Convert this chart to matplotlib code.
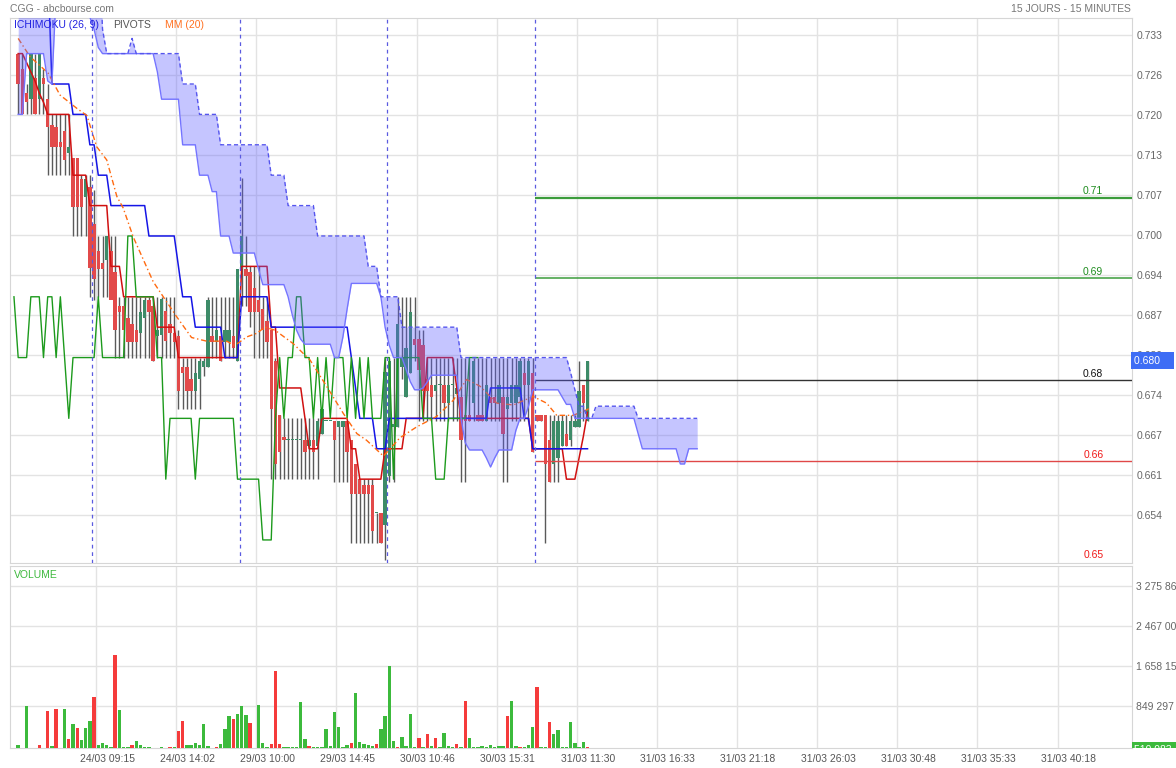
import numpy as np
import matplotlib
matplotlib.use("Agg")
from matplotlib import pyplot as plt
from matplotlib.transforms import Bbox, IdentityTransform, TransformedBbox

plt.rcParams['font.family'] = ['Liberation Sans', 'DejaVu Sans']

# --- candles (15 min bars, as drawn) ---
opens = [
    .730, .7275, .7235, .7225, .726, .7225, .726, .7225, .7183, .718,
    .7155, .7172, .7137, .7128, .7128, .7093, .7064, .708,
    .702, .6975, .6955, .696, .6975, .694, .6885, .6885, .6865, .6855,
    .6845, .684, .6865, .6895, .6885, .6835, .6837, .6877, .6855, .684,
    .6835, .6785, .6785, .6765, .6745, .6765, .6785, .6785, .6835, .6825,
    .6835, .6825, .6825, .6835, .6795,
    .6945, .6945, .694, .6915, .6895, .688, .686, .6845, .6795, .6705,
    .667, .6665, .6665, .6665, .6665, .6665, .6655, .6665, .6655, .6675,
    .6695, .6695, .6695, .6685, .6685, .6695, .6665, .6625, .660, .659,
    .659, .659, .6545, .6545, .6525,
    .6605, .6685, .6685, .6785, .6735, .6775, .683, .683, .682, .6765,
    .6755, .6745, .6755, .6755, .6725, .6755, .674, .6735, .6705, .6705,
    .6725, .6705, .6705, .6695, .6735, .6735, .6725, .6735, .6715, .6725,
    .6725, .6735, .6775, .6755, .6775,
    .6705, .6705, .6705, .6665, .6625, .6635, .6655, .6675, .6665, .6685,
    .6685, .6755, .6695]
closes = [
    .725, .720, .722, .730, .720, .730, .725, .718, .7147, .7147,
    .7147, .7125, .7147, .7048, .7048, .7048, .7093, .6947,
    .693, .6945, .6945, .700, .6895, .6845, .6875, .6845, .6825, .6825,
    .6825, .6875, .6895, .6875, .6795, .6845, .6897, .6827, .684, .6825,
    .6745, .6775, .6745, .6745, .6775, .6795, .6795, .6895, .6825, .6845,
    .6795, .6845, .6845, .6815, .6945,
    .700, .6935, .6875, .6875, .6875, .6845, .6825, .6715, .6625, .6645,
    .6665, .6665, .6665, .6665, .6665, .6645, .6665, .6645, .6695, .6715,
    .6695, .6695, .6665, .6695, .6695, .6645, .6575, .6575, .6575, .6575,
    .6575, .6515, .6545, .6495, .6777,
    .6795, .669, .6855, .680, .6815, .6875, .682, .678, .6745, .6745,
    .6735, .6755, .6755, .6725, .6755, .6755, .675, .6665, .6695, .6695,
    .6795, .6695, .6695, .6755, .6725, .6725, .6755, .6675, .6735, .6755,
    .6755, .6795, .6755, .6795, .6645,
    .6695, .6695, .6625, .6595, .6695, .6695, .6695, .6655, .6695, .6695,
    .6745, .6725, .6795]
highs = [
    .730, .730, .725, .730, .730, .730, .7275, .725, .720, .720,
    .720, .720, .720, .7128, .7128, .710, .710, .710,
    .7075, .700, .700, .700, .700, .700, .690, .690, .690, .690,
    .690, .690, .690, .690, .690, .690, .690, .690, .690, .690,
    .6845, .680, .680, .680, .680, .680, .680, .690, .690, .690,
    .690, .690, .690, .690, .6945,
    .7095, .700, .695, .695, .695, .690, .690, .6845, .680, .6705,
    .670, .670, .670, .670, .670, .670, .670, .670, .670, .6715,
    .6695, .6695, .6695, .6695, .6695, .6695, .6665, .6625, .660, .660,
    .660, .660, .6545, .6545, .680,
    .680, .680, .690, .690, .690, .690, .690, .6845, .6845, .680,
    .680, .680, .680, .680, .680, .680, .680, .680, .680, .680,
    .680, .680, .680, .680, .680, .680, .680, .680, .680, .680,
    .680, .680, .680, .680, .680,
    .6705, .6705, .6705, .6705, .6705, .6705, .6705, .6705, .6705, .6705,
    .6795, .6755, .6795]
lows = [
    .720, .720, .720, .720, .720, .720, .720, .710, .710, .710,
    .710, .710, .710, .700, .700, .700, .700, .690,
    .6895, .690, .690, .690, .690, .680, .680, .680, .680, .680,
    .680, .680, .680, .680, .6795, .680, .680, .680, .680, .680,
    .6715, .6715, .6715, .6715, .6715, .6715, .677, .6785, .680, .680,
    .6795, .680, .680, .680, .6795,
    .6885, .6885, .685, .680, .680, .680, .680, .660, .660, .660,
    .660, .660, .660, .660, .660, .660, .660, .660, .660, .6675,
    .6695, .6695, .6595, .6595, .6595, .6595, .6495, .6495, .6495, .6495,
    .6495, .6495, .6495, .6495, .6467,
    .6595, .6595, .6685, .6765, .6735, .6775, .6795, .6695, .6695, .6695,
    .6695, .6695, .6695, .6695, .6695, .6695, .6695, .6595, .6595, .6695,
    .6695, .6695, .6695, .6695, .6695, .6695, .6695, .6595, .6595, .6695,
    .6695, .6695, .6695, .6695, .6645,
    .6695, .6695, .6495, .6595, .6595, .6595, .6655, .6655, .6655, .6685,
    .6685, .6695, .6695]

# --- ichimoku lines ---
tenkan = ([.730, .730, .7285, .727, .7255, .7235, .722, .720] + [.720] * 5 + [.710] * 4
          + [.705] * 5 + [.695] * 3 + [.690] * 8 + [.685] * 5 + [.680] * 15 + [.695] * 7
          + [.685] * 2 + [.675] * 6 + [.670] + [.665] * 3 + [.670] * 7 + [.665] * 2
          + [.660] * 6 + [.665] * 5 + [.670] * 5 + [.680] * 7 + [.675] + [.670] * 17
          + [.665] * 8 + [.660] * 3 + [.6635, .667, .671])
kijun = ([.745] * 8 + [.725] * 5 + [.720] * 4 + [.715] * 2 + [.710] * 3 + [.705] * 9
         + [.700] * 7 + [.695] + [.690] * 3 + [.685] * 7 + [.680] * 4 + [.690] * 7
         + [.685] * 19 + [.680, .675] + [.670] * 4 + [.665] * 3 + [.670] * 24
         + [.675] * 8 + [.670] * 2 + [.665] * 14)
chikou_start = -1
chikou = [.69,
          .68, .68, .68, .69, .69, .69, .68, .69, .69, .68,
          .69, .68, .67, .68, .68, .68, .68, .68, .68, .69,
          .68, .68, .68, .68, .68, .68, .70, .70, .69, .69,
          .69, .69, .69, .68, .68, .66, .67, .67, .67, .67,
          .67, .67, .66, .67, .67, .67, .67, .67, .67, .67,
          .67, .67, .66, .66, .66, .66, .66, .66, .65, .65,
          .65, .67, .68, .67, .68, .68, .69, .69, .68, .68,
          .67, .68, .67, .68, .67, .68, .68, .68, .67, .68,
          .67, .68, .67, .68, .67, .67, .67, .68, .68, .66,
          .68, .68, .68, .68, .68, .68, .67, .67, .67, .66,
          .66, .66, .67, .67, .67, .67, .67, .68, .68, .68]
span_a = ([.720, .720, .730, .730, .730, .730, .730, .7255, .725, .740] + [.745] * 7
          + [.736, .734, .731] + [.730] * 13
          + [.727, .7225] + [.7225] * 4 + [.715] * 4 + [.710] * 3 + [.7073] * 2
          + [.700] * 3 + [.6972] * 6 + [.6945] + [.692] * 6 + [.690, .687, .6845, .683]
          + [.6822] * 7 + [.680] * 2 + [.6834, .688] + [.6922] * 7 + [.690, .685, .682]
          + [.680] * 3 + [.678, .676] + [.6747] * 2 + [.675, .676] + [.6771] * 7
          + [.670, .666] + [.6648] * 4 + [.6635, .662, .6635] + [.6648] * 4 + [.668]
          + [.670] * 2 + [.672] + [.6747] * 7 + [.6735] + [.6723] * 2 + [.670] * 15
          + [.6675] + [.665] * 9 + [.6625] * 2 + [.665] * 3)
span_b = ([.75] * 20 + [.734] + [.730] * 6 + [.7325] + [.730] * 11 + [.725] * 4
          + [.720] * 5 + [.715] * 12 + [.710] * 4 + [.705] * 7 + [.700] * 12
          + [.695] * 3 + [.690] * 5 + [.685] * 14 + [.680] * 26 + [.6775, .6747]
          + [.672] * 2 + [.670] * 2 + [.672] * 10 + [.670] * 15)

# --- MM(20), read as vertices (bar index, value) ---
mm_bar = [0, 2.8, 7.1, 9.9, 13.9, 16.3, 18.6, 21.0, 23.4, 24.9, 27.3, 32.0, 34.4, 37.6,
          41.1, 44.7, 49.4, 51.4, 54.2, 56.6, 58.5, 60.9, 65.2, 69.2, 73.2, 77.1, 80.3,
          82.6, 86.6, 88.2, 90.5, 94.5, 99.2, 103.2, 106.3, 109.5, 113.5, 117.4, 122.1,
          125.3, 127.7, 131.6, 134.8, 135.6]
mm_val = [.7325, .7295, .7268, .7232, .721, .7198, .7147, .7125, .7065, .7046, .6998,
          .6925, .690, .6867, .6833, .6827, .6827, .6820, .6834, .6840, .6850, .6845,
          .6823, .6796, .6752, .6708, .6675, .6664, .6638, .665, .6668, .6686, .6703,
          .673, .6764, .6753, .6725, .6722, .6736, .6725, .6705, .6705, .6714, .6717]

# --- pivots ---
pivot_vals = [.7063, .6931, .6763, .6630, .6455]
pivot_labels = ['0.71', '0.69', '0.68', '0.66', '0.65']
pivot_line_colors = ['#3c9c3c', '#3c9c3c', '#333333', '#e04848', '#e04848']
pivot_text_colors = ['#1e8c1e', '#1e8c1e', '#111111', '#f01818', '#f01818']
pivot_lw = [1.6, 1.1, 1.0, 1.0, 1.0]

# --- volume (thousands) and bar direction ---
volumes_k = [67, 7, 842, 7, 7, 67, 7, 741, 34, 795, 7, 782, 175, 492, 404, 168, 411, 553, 1031, 67,
             108, 54, 27, 1874, 768, 20, 20, 54, 148, 61, 13, 13, 7, 7, 13, 7, 13, 13, 337, 539,
             67, 54, 94, 61, 478, 40, 7, 20, 81, 384, 647, 593, 694, 842, 674, 512, 7, 876, 101, 13,
             81, 1550, 81, 13, 13, 13, 13, 930, 182, 34, 13, 13, 20, 377, 40, 728, 418, 13, 54, 94,
             1119, 115, 74, 54, 34, 74, 391, 640, 1658, 148, 13, 229, 40, 681, 13, 209, 13, 276, 34, 195,
             13, 310, 34, 13, 81, 13, 944, 195, 13, 13, 34, 27, 54, 27, 40, 40, 640, 957, 34, 20,
             13, 67, 418, 1233, 13, 13, 532, 290, 357, 13, 13, 519, 94, 13, 115, 13]
vol_dir = ("grgggrgrgr" "ggrgrgggrg" "gggrgggrgg" "ggggggrgrr" "gggggggrgg" "grgggrgggg"
           "rrrggggggr" "gggggggggr" "gggggrgggg" "rggggrgrgr" "ggggrgrggg" "ggggggrggr"
           "gggrggrggg" "gggggr")

day_breaks = [17.5, 52.5, 87.5, 122.5]
grid_bars = [18.45 + 19 * k for k in range(13)]
label_bars = [21.06 + 19 * k for k in range(13)]
x_labels = ['24/03 09:15', '24/03 14:02', '29/03 10:00', '29/03 14:45', '30/03 10:46',
            '30/03 15:31', '31/03 11:30', '31/03 16:33', '31/03 21:18', '31/03 26:03',
            '31/03 30:48', '31/03 35:33', '31/03 40:18']
price_ticks = [0.6541, 0.66068, 0.66726, 0.67384, 0.68042, 0.687, 0.69358, 0.70016,
               0.70674, 0.71332, 0.7199, 0.72648, 0.73306]
vol_ticks = [849297, 1658152, 2467007, 3275862]

W, H = 1176, 768


def box(x0, y0, x1, y1):
    return [x0 / W, 1 - y1 / H, (x1 - x0) / W, (y1 - y0) / H]


fig = plt.figure(figsize=(W / 100, H / 100), dpi=100)
ax = fig.add_axes(box(10, 17.5, 1132, 562.5))
axv = fig.add_axes(box(10, 566, 1132, 748))

grid_c = '#e3e3e3'
txt_c = '#666666'
for a in (ax, axv):
    a.set_xlim(-1.94, 264.1)
    for g in grid_bars:
        a.axvline(g, color=grid_c, lw=1, zorder=0)
    for s in a.spines.values():
        s.set_color('#d6d6d6')
    a.yaxis.tick_right()
    a.tick_params(axis='y', length=0, pad=3, labelsize=7.5, labelcolor=txt_c)
    a.grid(axis='y', color=grid_c, lw=1, zorder=0)
    a.set_axisbelow(True)

# price pane
bars = np.arange(len(opens))
o = np.array(opens)
c = np.array(closes)
up = c >= o
ax.set_ylim(0.64629, 0.73594)
ax.set_yticks(price_ticks)
ax.set_yticklabels([f'{t:.3f}' for t in price_ticks])
ax.set_xticks([])

ax.vlines(bars, lows, highs, color='#5a5a5a', lw=1, zorder=2)
ax.bar(bars, np.maximum(np.abs(c - o), 0.00015), bottom=np.minimum(o, c), width=0.8,
       color=np.where(up, '#3d8b68', '#e24a4a'), zorder=3)

ax.plot(bars, tenkan, color='#d01010', lw=1.1, zorder=4)
ax.plot(bars, kijun, color='#1515e6', lw=1.1, zorder=4)
ax.plot(np.arange(len(chikou)) + chikou_start, chikou, color='#1c9a1c', lw=1.0, zorder=4)
ax.plot(mm_bar, mm_val, color='#ff6a10', lw=1.0, ls=(0, (4, 2, 1, 2)), zorder=4)

cb = np.arange(len(span_a))
ax.fill_between(cb, span_a, span_b, color='#5a5aff', alpha=0.35, lw=0, zorder=5)
ax.plot(cb, span_a, color='#7474ff', lw=1, zorder=5)
ax.plot(cb, span_b, color='#5555ee', lw=1, ls=(0, (3, 2)), zorder=5)

for d in day_breaks:
    ax.axvline(d, color='#5b5be0', lw=0.9, ls=(0, (3, 3)), zorder=6)

y_floor = 0.64629 + 0.0002
for val, lab, lc, tc, lw in zip(pivot_vals, pivot_labels, pivot_line_colors,
                                pivot_text_colors, pivot_lw):
    ax.hlines(val, day_breaks[-1], 264.1, color=lc, lw=lw, zorder=4)
    ax.text(254.9, max(val, y_floor) + 0.0002, lab, color=tc, ha='center', va='bottom',
            fontsize=7.5, zorder=7)

ax.annotate(f'{closes[-1] + 1e-6:.3f}    ', xy=(1, closes[-1]),
            xycoords=('axes fraction', 'data'), xytext=(1.2, 0), textcoords='offset points',
            va='center', ha='left', color='white', fontsize=7.5, annotation_clip=False,
            bbox=dict(boxstyle='square,pad=0.3', fc='#3e6df5', ec='none'), zorder=10)

ax.text(0.0036, 0.986, 'ICHIMOKU (26, 9)', transform=ax.transAxes, color='#2020e0',
        fontsize=7.5, va='center', zorder=8)
ax.text(0.0918, 0.986, 'PIVOTS', transform=ax.transAxes, color='#555555',
        fontsize=7.5, va='center', zorder=8)
ax.text(0.138, 0.986, 'MM (20)', transform=ax.transAxes, color='#ff7020',
        fontsize=7.5, va='center', zorder=8)

# volume pane
vol = np.array(volumes_k) * 1000
axv.bar(bars, vol, width=0.8, zorder=3,
        color=['#3cba3c' if d == 'g' else '#f53b3b' for d in vol_dir])
axv.set_ylim(0, 3.68e6)
axv.set_yticks(vol_ticks)
axv.set_yticklabels([f'{v:,}'.replace(',', ' ') for v in vol_ticks])
axv.set_xticks(label_bars)
axv.set_xticklabels(x_labels)
axv.tick_params(axis='x', length=0, pad=4, labelsize=7.5, labelcolor='#555555')
axv.text(0.0036, 0.95, 'VOLUME', transform=axv.transAxes, color='#3cb83c',
         fontsize=7.5, va='center')

t = axv.annotate('510 083    ', xy=(1, 0), xycoords='axes fraction', xytext=(1.2, -1.2),
                 textcoords='offset points', va='center', ha='left', color='white',
                 fontsize=7.5, annotation_clip=False,
                 bbox=dict(boxstyle='square,pad=0.3', fc='#3cba3c', ec='none'))
t.set_clip_box(TransformedBbox(Bbox([[1132, H - 748], [W, H - 566]]), IdentityTransform()))
t.set_clip_on(True)

fig.text(10 / W, 1 - 9 / H, 'CGG - abcbourse.com', color='#777777', fontsize=7.5, va='center')
fig.text(1131 / W, 1 - 9 / H, '15 JOURS - 15 MINUTES', color='#777777', fontsize=7.5,
         va='center', ha='right')

fig.savefig('out.png', dpi=100)
